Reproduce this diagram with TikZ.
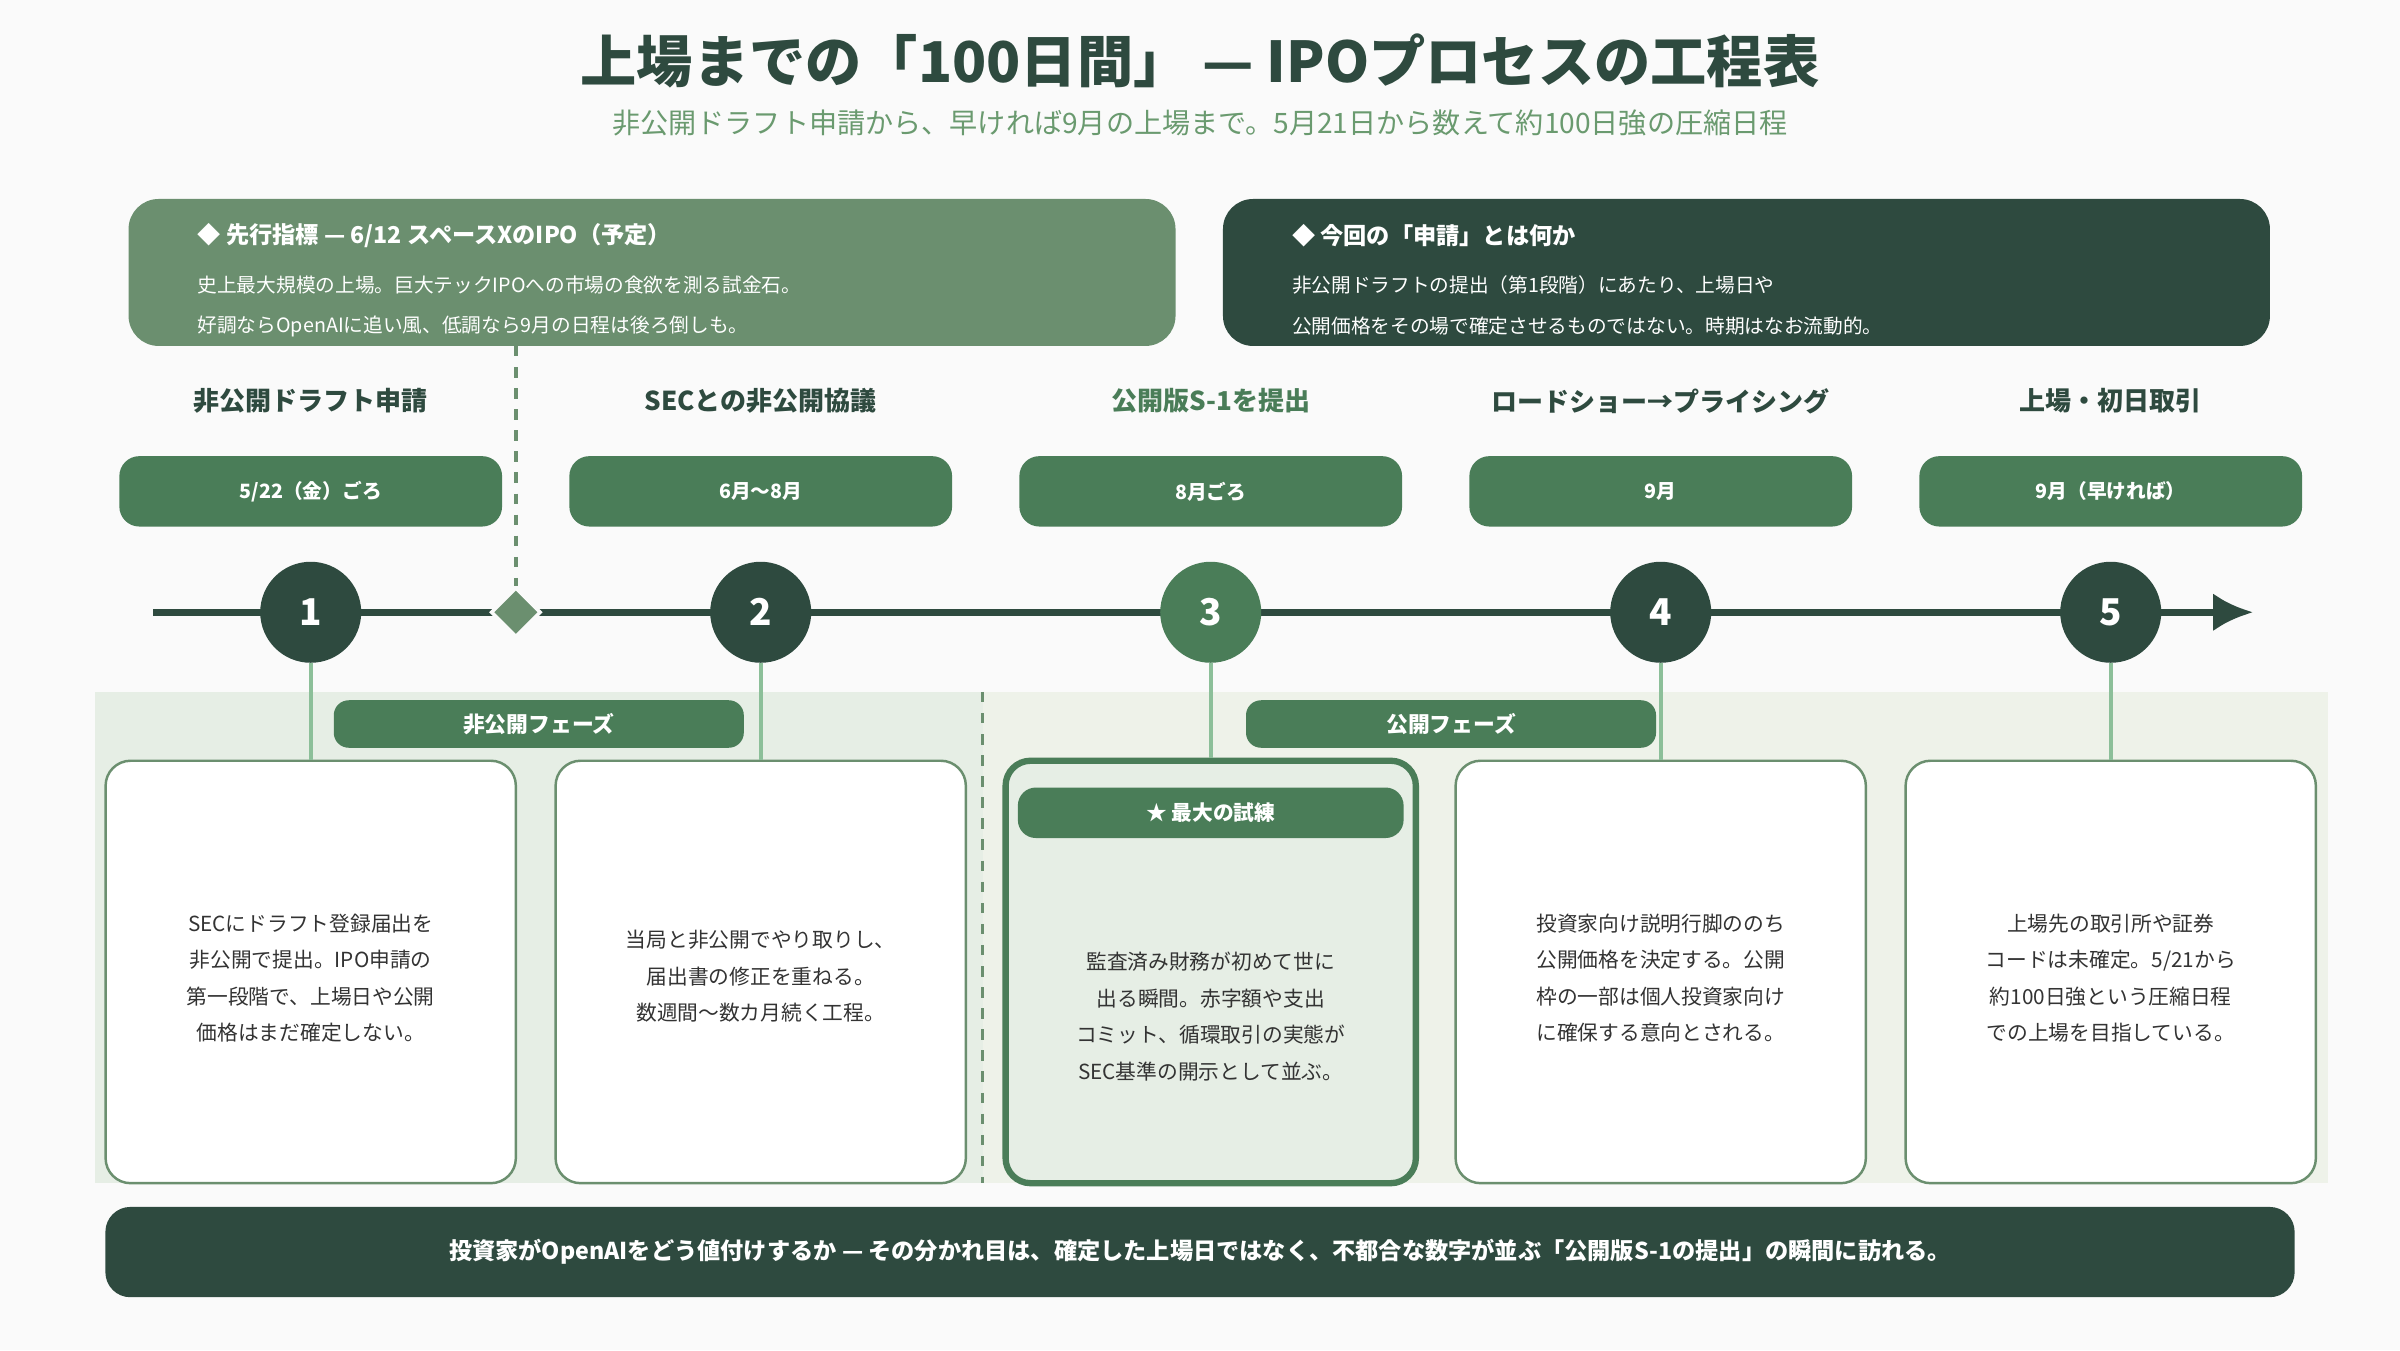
\documentclass[tikz,border=0pt]{standalone}
\usepackage{fontspec}
\setmainfont{Noto Sans CJK JP}
\usetikzlibrary{positioning,arrows.meta,shapes.geometric}
\definecolor{dk}{HTML}{2E4A3F}
\definecolor{md}{HTML}{4A7D58}
\definecolor{lt}{HTML}{6B8F6F}
\definecolor{ln}{HTML}{8CBF99}
\definecolor{phA}{HTML}{E6EEE5}
\definecolor{phB}{HTML}{EEF2E9}
\definecolor{sub}{HTML}{6A9A6F}
\definecolor{txt}{HTML}{333333}
\begin{document}
\begin{tikzpicture}[x=0.015306cm, y=-0.015306cm,
    datepill/.style={fill=md, rounded corners=0.2cm, minimum width=3.827cm, minimum height=0.704cm, text=white, font=\fontsize{5.6}{7}\selectfont\bfseries},
    stepnum/.style={circle, fill=dk, minimum size=1.01cm, inner sep=0pt, text=white, font=\fontsize{10.5}{12}\selectfont\bfseries},
    steptitle/.style={text=dk, font=\fontsize{7.4}{9}\selectfont\bfseries},
    card/.style={draw=lt, line width=0.7pt, fill=white, rounded corners=0.25cm, minimum width=4.102cm, minimum height=4.224cm},
    cardtext/.style={align=center, text=txt, font=\fontsize{5.9}{10.4}\selectfont},
    phasepill/.style={fill=md, rounded corners=0.15cm, minimum width=4.10cm, minimum height=0.475cm, text=white, font=\fontsize{6.2}{7}\selectfont\bfseries},
    link/.style={draw=ln, line width=1.2pt}]
    % canvas
    \fill[white!98!black] (0,0) rectangle (1568,882);

    % title
    \node[text=dk, font=\fontsize{16}{19}\selectfont\bfseries] (title) at (784,40) {上場までの「100日間」 — IPOプロセスの工程表};
    \node[text=sub, font=\fontsize{8}{10}\selectfont] (subtitle) at (784,80) {非公開ドラフト申請から、早ければ9月の上場まで。5月21日から数えて約100日強の圧縮日程};

    % note boxes
    \fill[lt, rounded corners=0.3cm] (84,130) rectangle (768,226);
    \node[anchor=west, text=white, font=\fontsize{6.6}{8}\selectfont\bfseries] (noteA) at (121,154) {◆ 先行指標 — 6/12 スペースXのIPO（予定）};
    \node[anchor=west, text=white, font=\fontsize{5.6}{7}\selectfont] at (121,186) {史上最大規模の上場。巨大テックIPOへの市場の食欲を測る試金石。};
    \node[anchor=west, text=white, font=\fontsize{5.6}{7}\selectfont] at (121,213) {好調ならOpenAIに追い風、低調なら9月の日程は後ろ倒しも。};
    \fill[dk, rounded corners=0.3cm] (799,130) rectangle (1483,226);
    \node[anchor=west, text=white, font=\fontsize{6.6}{8}\selectfont\bfseries] (noteB) at (836,154) {◆ 今回の「申請」とは何か};
    \node[anchor=west, text=white, font=\fontsize{5.6}{7}\selectfont] at (836,186) {非公開ドラフトの提出（第1段階）にあたり、上場日や};
    \node[anchor=west, text=white, font=\fontsize{5.6}{7}\selectfont] at (836,213) {公開価格をその場で確定させるものではない。時期はなお流動的。};

    % phase backgrounds
    \fill[phA] (62,452) rectangle (642,773);
    \fill[phB] (642,452) rectangle (1521,773);
    \draw[lt, dashed, line width=1pt] (642,452) -- (642,773);

    % step titles and dates
    \node[steptitle] (t1) at (203,262) {非公開ドラフト申請};
    \node[steptitle] (t2) at (497,262) {SECとの非公開協議};
    \node[steptitle, text=md] (t3) at (791,262) {公開版S-1を提出};
    \node[steptitle] (t4) at (1085,262) {ロードショー→プライシング};
    \node[steptitle] (t5) at (1379,262) {上場・初日取引};
    \node[datepill] (d1) at (203,321) {5/22（金）ごろ};
    \node[datepill] (d2) at (497,321) {6月〜8月};
    \node[datepill] (d3) at (791,321) {8月ごろ};
    \node[datepill] (d4) at (1085,321) {9月};
    \node[datepill] (d5) at (1379,321) {9月（早ければ）};

    % timeline
    \coordinate (start) at (100,400);
    \coordinate (end) at (1472,400);
    \draw[dk, line width=2pt, -{Latex[length=0.4cm, width=0.38cm]}] (start) -- (end);
    \coordinate (spx) at (337,226);
    \node[diamond, fill=lt, draw=white!98!black, line width=1pt, minimum size=0.5cm, inner sep=0pt] (mark) at (337,400) {};
    \draw[lt, dashed, line width=1pt] (spx) -- (mark);
    \node[stepnum] (n1) at (203,400) {1};
    \node[stepnum] (n2) at (497,400) {2};
    \node[stepnum, fill=md] (n3) at (791,400) {3};
    \node[stepnum] (n4) at (1085,400) {4};
    \node[stepnum] (n5) at (1379,400) {5};

    % cards
    \node[card] (c1) at (203,635) {};
    \node[card] (c2) at (497,635) {};
    \node[card, fill=phA, draw=md, line width=1.8pt] (c3) at (791,635) {};
    \node[card] (c4) at (1085,635) {};
    \node[card] (c5) at (1379,635) {};
    \draw[link] (n1) -- (c1);
    \draw[link] (n2) -- (c2);
    \draw[link] (n3) -- (c3);
    \draw[link] (n4) -- (c4);
    \draw[link] (n5) -- (c5);
    \node[phasepill] (ph1) at (352,473) {非公開フェーズ};
    \node[phasepill] (ph2) at (948,473) {公開フェーズ};

    \node[cardtext] at (203,639) {SECにドラフト登録届出を\\非公開で提出。IPO申請の\\第一段階で、上場日や公開\\価格はまだ確定しない。};
    \node[cardtext] at (497,638) {当局と非公開でやり取りし、\\届出書の修正を重ねる。\\数週間〜数カ月続く工程。};
    \node[fill=md, rounded corners=0.18cm, minimum width=3.857cm, minimum height=0.505cm, text=white, font=\fontsize{5.9}{7}\selectfont\bfseries] (trial) at (791,531) {★ 最大の試練};
    \node[cardtext] at (791,664) {監査済み財務が初めて世に\\出る瞬間。赤字額や支出\\コミット、循環取引の実態が\\SEC基準の開示として並ぶ。};
    \node[cardtext] at (1085,639) {投資家向け説明行脚ののち\\公開価格を決定する。公開\\枠の一部は個人投資家向け\\に確保する意向とされる。};
    \node[cardtext] at (1379,639) {上場先の取引所や証券\\コードは未確定。5/21から\\約100日強という圧縮日程\\での上場を目指している。};

    % bottom message
    \node[fill=dk, rounded corners=0.25cm, minimum width=21.89cm, minimum height=0.903cm, text=white, font=\fontsize{6.6}{8}\selectfont\bfseries] (msg) at (784,818) {投資家がOpenAIをどう値付けするか — その分かれ目は、確定した上場日ではなく、不都合な数字が並ぶ「公開版S-1の提出」の瞬間に訪れる。};
  \end{tikzpicture}
\end{document}
